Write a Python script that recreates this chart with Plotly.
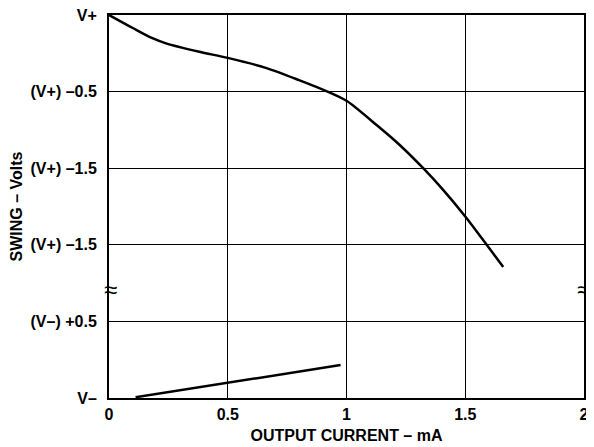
import plotly.graph_objects as go

# Data (y in "level" units: 0 = V-, 5 = V+)
upper_current = [0.0, 0.10, 0.18, 0.24, 0.38, 0.50, 0.66, 0.80, 0.92, 1.00, 1.128, 1.225, 1.323, 1.406, 1.50, 1.588, 1.66]
upper_swing = [5.0, 4.83, 4.70, 4.63, 4.52, 4.44, 4.31, 4.15, 4.00, 3.88, 3.56, 3.30, 3.00, 2.72, 2.37, 2.01, 1.71]
lower_current = [0.112, 0.975]
lower_swing = [0.01, 0.43]

x_tickvals = [0, 0.5, 1, 1.5, 2]
x_ticktext = ["0", "0.5", "1", "1.5", "2"]
y_tickvals = [0, 1, 2, 3, 4, 5]
y_ticktext = ["V–", "(V–) +0.5", "(V+) –1.5", "(V+) –1.5", "(V+) –0.5", "V+"]
break_level = 1.42

FONT = "Arial, 'Liberation Sans', sans-serif"

fig = go.Figure()
fig.add_trace(go.Scatter(x=upper_current, y=upper_swing, mode="lines",
                         line=dict(color="black", width=2.5, shape="spline", smoothing=0.8),
                         showlegend=False, hoverinfo="skip"))
fig.add_trace(go.Scatter(x=lower_current, y=lower_swing, mode="lines",
                         line=dict(color="black", width=2.5),
                         showlegend=False, hoverinfo="skip"))

for xpos, xs in [(0, 1), (2, -1)]:
    fig.add_annotation(x=xpos, y=break_level, xref="x", yref="y", text="≈",
                       showarrow=False, xshift=xs, yshift=0,
                       font=dict(family=FONT, size=24, color="black"))

fig.update_xaxes(range=[0, 2], tickvals=x_tickvals, ticktext=x_ticktext,
                 showgrid=True, gridcolor="black", gridwidth=1,
                 showline=True, linecolor="black", linewidth=2, mirror=True,
                 ticks="", zeroline=False, automargin=False, ticklabelstandoff=1,
                 ticklabeloverflow="allow",
                 tickfont=dict(family=FONT, size=16, color="black", weight="bold"),
                 title=dict(text="OUTPUT CURRENT – mA", standoff=8,
                            font=dict(family=FONT, size=16, color="black", weight="bold")))
fig.update_yaxes(range=[0, 5], tickvals=y_tickvals, ticktext=y_ticktext,
                 showgrid=True, gridcolor="black", gridwidth=1,
                 showline=True, linecolor="black", linewidth=2, mirror=True,
                 ticks="", zeroline=False, automargin=False, ticklabelstandoff=7,
                 ticklabeloverflow="allow",
                 tickfont=dict(family=FONT, size=16, color="black", weight="bold"),
                 title=dict(text="SWING – Volts", standoff=6,
                            font=dict(family=FONT, size=16, color="black", weight="bold")))

fig.update_layout(width=586, height=439,
                  margin=dict(l=101, r=10, t=7, b=49),
                  paper_bgcolor="white", plot_bgcolor="white")

fig.write_html("out.html")
